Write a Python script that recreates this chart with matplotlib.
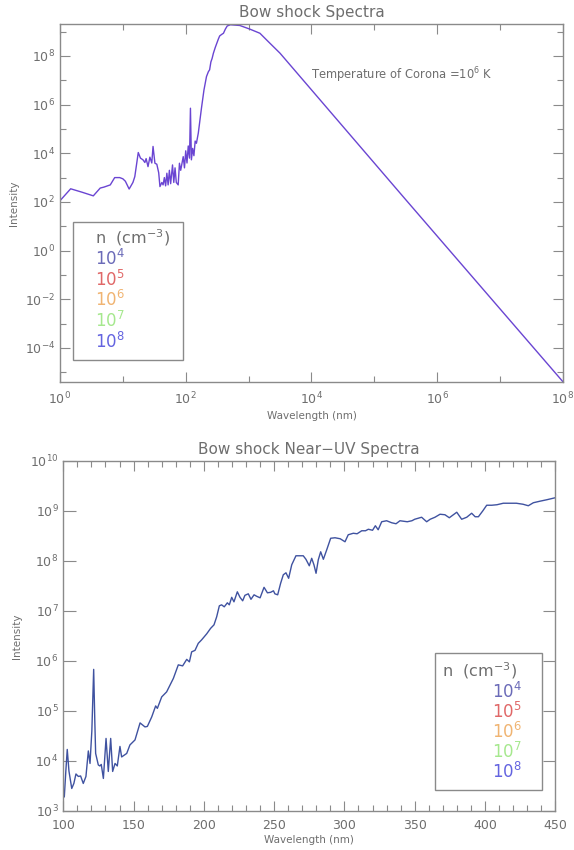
import numpy as np
import matplotlib
matplotlib.use("Agg")
import matplotlib.pyplot as plt
from matplotlib.patches import Rectangle
from matplotlib.ticker import FixedLocator, NullFormatter, FuncFormatter

plt.rcParams['font.family'] = ['DejaVu Sans']
plt.rcParams['mathtext.default'] = 'regular'

top_log_wl = [0.00, 0.17, 0.35, 0.53, 0.64, 0.70, 0.80, 0.87, 0.95, 1.00, 1.04, 1.10,
              1.16, 1.19, 1.245, 1.28, 1.32, 1.35, 1.37, 1.40, 1.43, 1.46, 1.48, 1.51,
              1.54, 1.57, 1.59, 1.62, 1.64, 1.66, 1.68, 1.70, 1.72, 1.74, 1.76, 1.79,
              1.81, 1.83, 1.85, 1.88, 1.90, 1.92, 1.96, 1.98, 2.00, 2.02, 2.04, 2.06,
              2.075, 2.09, 2.11, 2.13, 2.15, 2.17, 2.20, 2.25, 2.29, 2.33, 2.36, 2.38,
              2.40, 2.42, 2.44, 2.47, 2.49, 2.52, 2.54, 2.57, 2.60, 2.63, 2.66, 2.71,
              2.76, 2.86, 3.02, 3.18, 3.30, 3.50, 5.49, 8.00]
top_log_int = [2.05, 2.54, 2.40, 2.25, 2.57, 2.61, 2.70, 3.00, 3.00, 2.95, 2.85, 2.53,
               2.80, 3.04, 4.03, 3.80, 3.73, 3.62, 3.78, 3.45, 3.84, 3.60, 4.28, 3.59,
               3.55, 3.20, 2.63, 2.80, 2.70, 3.00, 2.66, 3.18, 2.70, 3.30, 2.75, 3.52,
               2.80, 3.40, 2.80, 2.70, 3.59, 3.30, 3.86, 3.40, 4.10, 3.60, 4.30, 3.80,
               5.85, 3.73, 4.20, 3.90, 4.50, 4.41, 4.83, 5.85, 6.60, 7.15, 7.35, 7.43,
               7.75, 7.90, 8.11, 8.35, 8.49, 8.70, 8.82, 8.88, 8.93, 9.10, 9.23, 9.28,
               9.27, 9.25, 9.10, 8.93, 8.62, 8.11, 2.12, -5.39]

# ---- Bottom panel: near-UV spectrum ----
uv_wl = [100.0, 100.7, 101.8, 102.8, 104.0, 106.0, 107.5, 109.0, 110.7, 112.3, 114.2,
         116.1, 117.8, 119.0, 120.3, 121.6, 122.4, 123.0, 124.9, 126.0, 127.0, 128.5,
         130.4, 132.0, 133.7, 135.1, 136.8, 138.4, 140.3, 141.5, 145.1, 147.4, 151.0,
         154.6, 158.1, 159.8, 162.9, 165.7, 166.9, 170.0, 173.5, 178.3, 181.8, 184.9,
         187.8, 189.7, 191.3, 193.7, 196.0, 198.4, 202.0, 204.8, 207.2, 209.1, 211.0,
         212.6, 214.5, 216.7, 218.1, 219.8, 221.4, 223.8, 225.7, 227.6, 229.2, 231.6,
         233.5, 235.7, 237.6, 240.0, 242.8, 245.2, 247.5, 249.5, 250.5, 252.5, 254.6,
         256.5, 258.4, 260.3, 262.5, 265.5, 268.0, 270.7, 272.6, 275.0, 276.7, 278.3,
         279.8, 281.4, 283.1, 285.0, 287.4, 290.2, 293.3, 297.0, 300.4, 302.7, 306.3,
         309.0, 312.3, 315.0, 317.0, 320.0, 322.0, 324.0, 326.5, 330.0, 333.6, 336.7,
         339.5, 342.0, 344.7, 348.0, 350.0, 352.5, 354.9, 358.5, 361.0, 364.4, 368.0,
         371.5, 374.6, 377.0, 379.9, 383.4, 387.0, 390.5, 393.0, 395.3, 398.5, 401.2,
         404.8, 408.5, 413.0, 418.0, 422.3, 427.0, 430.8, 434.4, 439.0, 444.0, 450.0]
uv_log_int = [3.40, 3.28, 3.80, 4.23, 3.80, 3.45, 3.55, 3.74, 3.69, 3.70, 3.55,
              3.69, 4.20, 3.95, 4.60, 5.83, 4.80, 4.15, 3.92, 3.90, 3.93, 3.65,
              4.45, 3.79, 4.45, 3.79, 3.95, 3.90, 4.29, 4.08, 4.15, 4.32, 4.42,
              4.76, 4.68, 4.69, 4.88, 5.10, 5.05, 5.28, 5.38, 5.65, 5.92, 5.90,
              6.03, 5.98, 6.18, 6.21, 6.35, 6.42, 6.54, 6.65, 6.72, 6.88, 7.10,
              7.12, 7.08, 7.16, 7.12, 7.27, 7.18, 7.38, 7.27, 7.20, 7.31, 7.34,
              7.23, 7.32, 7.29, 7.26, 7.47, 7.36, 7.37, 7.40, 7.34, 7.32, 7.55,
              7.72, 7.76, 7.65, 7.92, 8.10, 8.10, 8.10, 8.03, 7.90, 8.05, 7.92,
              7.75, 8.02, 8.18, 8.03, 8.22, 8.45, 8.46, 8.44, 8.38, 8.52, 8.55,
              8.54, 8.60, 8.60, 8.63, 8.61, 8.70, 8.62, 8.78, 8.80, 8.76, 8.74,
              8.80, 8.79, 8.78, 8.80, 8.83, 8.85, 8.87, 8.78, 8.83, 8.87, 8.93,
              8.92, 8.86, 8.91, 8.97, 8.83, 8.87, 8.95, 8.88, 8.88, 9.00, 9.11,
              9.11, 9.12, 9.15, 9.15, 9.15, 9.13, 9.10, 9.16, 9.19, 9.22, 9.26]

legend_labels = [r'$10^{4}$', r'$10^{5}$', r'$10^{6}$', r'$10^{7}$', r'$10^{8}$']
legend_colors = ['#6b6bb8', '#e06868', '#f0b472', '#a6e88e', '#6464e0']
legend_title = r'n  (cm$^{-3}$)'

GRAY = '#6e6e6e'
SPINE = '#8a8a8a'

fig = plt.figure(figsize=(5.74, 8.5), dpi=100)

def style_axes(ax):
    for s in ax.spines.values():
        s.set_color(SPINE)
        s.set_linewidth(1.0)
    ax.tick_params(which='both', direction='in', top=True, right=True,
                   colors=SPINE, labelcolor=GRAY, labelsize=9, width=0.8)

def sci(v, pos):
    e = int(round(np.log10(v)))
    return r'$10^{%d}$' % e

# ---------- Top ----------
ax1 = fig.add_axes([0.1045, 0.5506, 0.8763, 0.4212])
ax1.plot(10 ** np.array(top_log_wl), 10 ** np.array(top_log_int), color='#6a45d2', lw=1.0)
ax1.set_xscale('log')
ax1.set_yscale('log')
ax1.set_xlim(1, 1e8)
ax1.set_ylim(4.0e-6, 2.05e9)
ax1.xaxis.set_major_locator(FixedLocator([10.0 ** k for k in range(0, 9, 2)]))
ax1.xaxis.set_minor_locator(FixedLocator([10.0 ** k for k in range(1, 9, 2)]))
ax1.yaxis.set_major_locator(FixedLocator([10.0 ** k for k in range(-4, 9, 2)]))
ax1.yaxis.set_minor_locator(FixedLocator([10.0 ** k for k in range(-5, 10, 2)]))
ax1.xaxis.set_major_formatter(FuncFormatter(sci))
ax1.yaxis.set_major_formatter(FuncFormatter(sci))
ax1.xaxis.set_minor_formatter(NullFormatter())
ax1.yaxis.set_minor_formatter(NullFormatter())
style_axes(ax1)
ax1.tick_params(which='major', length=7)
ax1.tick_params(which='minor', length=4)
ax1.tick_params(axis='x', pad=6)
ax1.set_title('Bow shock Spectra', color=GRAY, fontsize=11, pad=5)
ax1.set_xlabel('Wavelength (nm)', color=GRAY, fontsize=7.5, labelpad=3)
ax1.set_ylabel('Intensity', color=GRAY, fontsize=7.5, labelpad=4)
ax1.text(1e4, 10 ** 7.2, r'Temperature of Corona =10$^{6}$ K', color=GRAY,
         fontsize=8.3, ha='left', va='center')

ax1.add_patch(Rectangle((0.026, 0.0615), 0.2185, 0.3855, transform=ax1.transAxes,
                        fill=False, edgecolor=SPINE, lw=1.0))
ax1.text(0.069, 0.402, legend_title, transform=ax1.transAxes, color=GRAY,
         fontsize=11.5, ha='left', va='center')
top_leg_y = [0.344, 0.286, 0.228, 0.171, 0.113]
for lab, col, yy in zip(legend_labels, legend_colors, top_leg_y):
    ax1.text(0.069, yy, lab, transform=ax1.transAxes, color=col, fontsize=12,
             ha='left', va='center')

# ---------- Bottom ----------
ax2 = fig.add_axes([0.1103, 0.0459, 0.8571, 0.4121])
ax2.plot(uv_wl, 10 ** np.array(uv_log_int), color='#3f52a0', lw=1.0)
ax2.set_yscale('log')
ax2.set_xlim(100, 450)
ax2.set_ylim(1e3, 1e10)
ax2.xaxis.set_major_locator(FixedLocator(list(range(100, 451, 50))))
ax2.xaxis.set_minor_locator(FixedLocator(list(range(100, 451, 10))))
ax2.yaxis.set_major_locator(FixedLocator([10.0 ** k for k in range(3, 11)]))
ax2.yaxis.set_minor_locator(FixedLocator([]))
ax2.yaxis.set_major_formatter(FuncFormatter(sci))
ax2.yaxis.set_minor_formatter(NullFormatter())
style_axes(ax2)
ax2.tick_params(axis='x', which='major', length=7, pad=6)
ax2.tick_params(axis='x', which='minor', length=4)
ax2.tick_params(axis='y', which='major', length=9)
ax2.set_title('Bow shock Near\u2212UV Spectra', color=GRAY, fontsize=11, pad=5)
ax2.set_xlabel('Wavelength (nm)', color=GRAY, fontsize=7.5, labelpad=2)
ax2.set_ylabel('Intensity', color=GRAY, fontsize=7.5, labelpad=6)

ax2.add_patch(Rectangle((0.7555, 0.06), 0.2175, 0.391, transform=ax2.transAxes,
                        fill=False, edgecolor=SPINE, lw=1.0))
ax2.text(0.770, 0.400, legend_title, transform=ax2.transAxes, color=GRAY,
         fontsize=11.5, ha='left', va='center')
bot_leg_y = [0.340, 0.284, 0.227, 0.169, 0.112]
for lab, col, yy in zip(legend_labels, legend_colors, bot_leg_y):
    ax2.text(0.9317, yy, lab, transform=ax2.transAxes, color=col, fontsize=12,
             ha='right', va='center')

fig.savefig('out.png', dpi=100)
